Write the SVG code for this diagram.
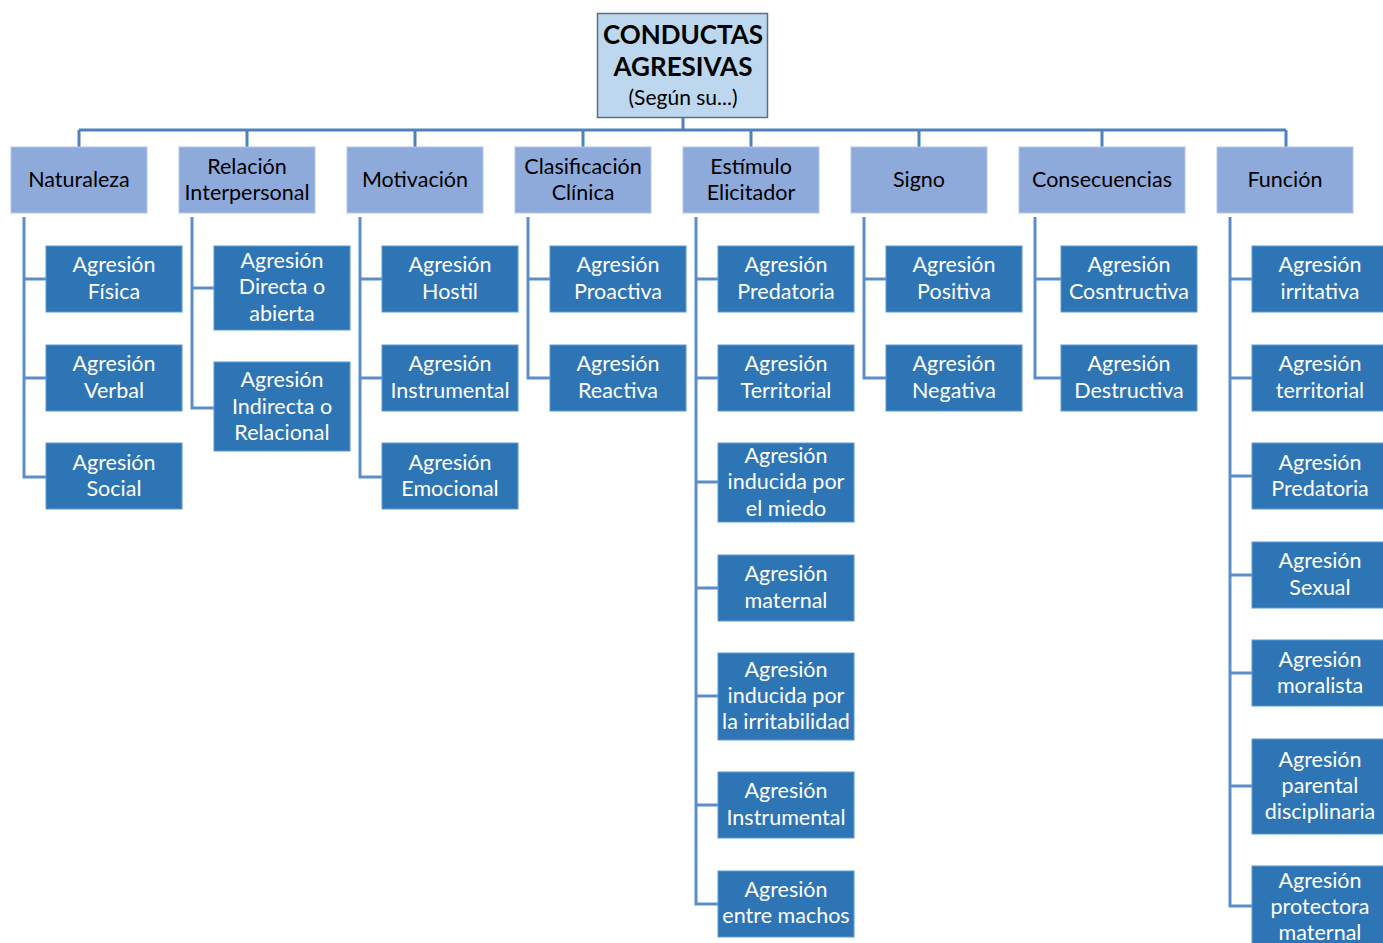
<svg xmlns="http://www.w3.org/2000/svg" width="1383" height="943" viewBox="0 0 1383 943">
<style>
text{font-family:Lato,"Liberation Sans",sans-serif;text-anchor:middle;dominant-baseline:central}
.root{fill:#BDD7EE;stroke:#5A6E86;stroke-width:1.5}
.cat{fill:#8EAADB;stroke:#B4C7E7;stroke-width:1}
.leaf{fill:#2E75B6;stroke:#5B9BD5;stroke-width:1}
.ct{font-size:21.5px;fill:#000}
.lt{font-size:21.5px;fill:#fff}
.bus{fill:none;stroke:#4F81BD;stroke-width:3}
.br{fill:none;stroke:#5B8EC9;stroke-width:3}
</style>
<rect width="1383" height="943" fill="#fff"/>
<g id="connectors">
<path class="bus" d="M683 117V130M79 130H1286M79 130V147M247 130V147M415 130V147M583 130V147M751 130V147M919 130V147M1102 130V147M1286 130V147"/>
<path class="br" d="M24 217V477H46M24 279H46M24 378H46"/>
<path class="br" d="M192 217V408H214M192 288H214"/>
<path class="br" d="M360 217V477H382M360 279H382M360 378H382"/>
<path class="br" d="M528 217V378H550M528 279H550"/>
<path class="br" d="M696 217V904H718M696 279H718M696 378H718M696 482H718M696 588H718M696 696H718M696 805H718"/>
<path class="br" d="M864 217V378H886M864 279H886"/>
<path class="br" d="M1035 217V378H1061M1035 279H1061"/>
<path class="br" d="M1230 217V906H1252M1230 279H1252M1230 378H1252M1230 476H1252M1230 575H1252M1230 673H1252M1230 786H1252"/>
</g>
<g id="root"><rect class="root" x="597.5" y="13.5" width="170" height="104"/>
<text x="683" y="34" font-size="26" font-weight="bold">CONDUCTAS</text>
<text x="683" y="66" font-size="26" font-weight="bold">AGRESIVAS</text>
<text x="683" y="96" font-size="21">(Según su...)</text></g>
<g id="cat-naturaleza"><rect class="cat" x="11" y="147" width="136" height="66"/><text class="ct" x="79" y="179">Naturaleza</text></g>
<g id="cat-relacion"><rect class="cat" x="179" y="147" width="136" height="66"/><text class="ct" x="247" y="166">Relación</text><text class="ct" x="247" y="192">Interpersonal</text></g>
<g id="cat-motivacion"><rect class="cat" x="347" y="147" width="136" height="66"/><text class="ct" x="415" y="179">Motivación</text></g>
<g id="cat-clasificacion"><rect class="cat" x="515" y="147" width="136" height="66"/><text class="ct" x="583" y="166">Clasificación</text><text class="ct" x="583" y="192">Clínica</text></g>
<g id="cat-estimulo"><rect class="cat" x="683" y="147" width="136" height="66"/><text class="ct" x="751" y="166">Estímulo</text><text class="ct" x="751" y="192">Elicitador</text></g>
<g id="cat-signo"><rect class="cat" x="851" y="147" width="136" height="66"/><text class="ct" x="919" y="179">Signo</text></g>
<g id="cat-consecuencias"><rect class="cat" x="1019" y="147" width="166" height="66"/><text class="ct" x="1102" y="179">Consecuencias</text></g>
<g id="cat-funcion"><rect class="cat" x="1217" y="147" width="136" height="66"/><text class="ct" x="1285" y="179">Función</text></g>

<g id="n-fisica"><rect class="leaf" x="46" y="246" width="136" height="66"/><text class="lt" x="114" y="264">Agresión</text><text class="lt" x="114" y="291">Física</text></g>
<g id="n-verbal"><rect class="leaf" x="46" y="345" width="136" height="66"/><text class="lt" x="114" y="363">Agresión</text><text class="lt" x="114" y="390">Verbal</text></g>
<g id="n-social"><rect class="leaf" x="46" y="443" width="136" height="66"/><text class="lt" x="114" y="462">Agresión</text><text class="lt" x="114" y="488">Social</text></g>

<g id="n-directa"><rect class="leaf" x="214" y="246" width="136" height="84"/><text class="lt" x="282" y="260">Agresión</text><text class="lt" x="282" y="286">Directa o</text><text class="lt" x="282" y="313">abierta</text></g>
<g id="n-indirecta"><rect class="leaf" x="214" y="362" width="136" height="89"/><text class="lt" x="282" y="379">Agresión</text><text class="lt" x="282" y="406">Indirecta o</text><text class="lt" x="282" y="432">Relacional</text></g>

<g id="n-hostil"><rect class="leaf" x="382" y="246" width="136" height="66"/><text class="lt" x="450" y="264">Agresión</text><text class="lt" x="450" y="291">Hostil</text></g>
<g id="n-instrumental1"><rect class="leaf" x="382" y="345" width="136" height="66"/><text class="lt" x="450" y="363">Agresión</text><text class="lt" x="450" y="390">Instrumental</text></g>
<g id="n-emocional"><rect class="leaf" x="382" y="443" width="136" height="66"/><text class="lt" x="450" y="462">Agresión</text><text class="lt" x="450" y="488">Emocional</text></g>

<g id="n-proactiva"><rect class="leaf" x="550" y="246" width="136" height="66"/><text class="lt" x="618" y="264">Agresión</text><text class="lt" x="618" y="291">Proactiva</text></g>
<g id="n-reactiva"><rect class="leaf" x="550" y="345" width="136" height="66"/><text class="lt" x="618" y="363">Agresión</text><text class="lt" x="618" y="390">Reactiva</text></g>

<g id="n-predatoria1"><rect class="leaf" x="718" y="246" width="136" height="66"/><text class="lt" x="786" y="264">Agresión</text><text class="lt" x="786" y="291">Predatoria</text></g>
<g id="n-territorial1"><rect class="leaf" x="718" y="345" width="136" height="66"/><text class="lt" x="786" y="363">Agresión</text><text class="lt" x="786" y="390">Territorial</text></g>
<g id="n-miedo"><rect class="leaf" x="718" y="443" width="136" height="79"/><text class="lt" x="786" y="455">Agresión</text><text class="lt" x="786" y="481">inducida por</text><text class="lt" x="786" y="508">el miedo</text></g>
<g id="n-maternal"><rect class="leaf" x="718" y="555" width="136" height="66"/><text class="lt" x="786" y="573">Agresión</text><text class="lt" x="786" y="600">maternal</text></g>
<g id="n-irritabilidad"><rect class="leaf" x="718" y="653" width="136" height="87"/><text class="lt" x="786" y="669">Agresión</text><text class="lt" x="786" y="695">inducida por</text><text class="lt" x="786" y="721">la irritabilidad</text></g>
<g id="n-instrumental2"><rect class="leaf" x="718" y="772" width="136" height="66"/><text class="lt" x="786" y="790">Agresión</text><text class="lt" x="786" y="817">Instrumental</text></g>
<g id="n-machos"><rect class="leaf" x="718" y="871" width="136" height="66"/><text class="lt" x="786" y="889">Agresión</text><text class="lt" x="786" y="915">entre machos</text></g>

<g id="n-positiva"><rect class="leaf" x="886" y="246" width="136" height="66"/><text class="lt" x="954" y="264">Agresión</text><text class="lt" x="954" y="291">Positiva</text></g>
<g id="n-negativa"><rect class="leaf" x="886" y="345" width="136" height="66"/><text class="lt" x="954" y="363">Agresión</text><text class="lt" x="954" y="390">Negativa</text></g>

<g id="n-constructiva"><rect class="leaf" x="1061" y="246" width="136" height="66"/><text class="lt" x="1129" y="264">Agresión</text><text class="lt" x="1129" y="291">Cosntructiva</text></g>
<g id="n-destructiva"><rect class="leaf" x="1061" y="345" width="136" height="66"/><text class="lt" x="1129" y="363">Agresión</text><text class="lt" x="1129" y="390">Destructiva</text></g>

<g id="n-irritativa"><rect class="leaf" x="1252" y="246" width="136" height="66"/><text class="lt" x="1320" y="264">Agresión</text><text class="lt" x="1320" y="291">irritativa</text></g>
<g id="n-territorial2"><rect class="leaf" x="1252" y="345" width="136" height="66"/><text class="lt" x="1320" y="363">Agresión</text><text class="lt" x="1320" y="390">territorial</text></g>
<g id="n-predatoria2"><rect class="leaf" x="1252" y="443" width="136" height="66"/><text class="lt" x="1320" y="462">Agresión</text><text class="lt" x="1320" y="488">Predatoria</text></g>
<g id="n-sexual"><rect class="leaf" x="1252" y="542" width="136" height="66"/><text class="lt" x="1320" y="560">Agresión</text><text class="lt" x="1320" y="587">Sexual</text></g>
<g id="n-moralista"><rect class="leaf" x="1252" y="640" width="136" height="66"/><text class="lt" x="1320" y="659">Agresión</text><text class="lt" x="1320" y="685">moralista</text></g>
<g id="n-parental"><rect class="leaf" x="1252" y="739" width="136" height="95"/><text class="lt" x="1320" y="759">Agresión</text><text class="lt" x="1320" y="785">parental</text><text class="lt" x="1320" y="811">disciplinaria</text></g>
<g id="n-protectora"><rect class="leaf" x="1252" y="866" width="136" height="90"/><text class="lt" x="1320" y="880">Agresión</text><text class="lt" x="1320" y="906">protectora</text><text class="lt" x="1320" y="932">maternal</text></g>
</svg>
